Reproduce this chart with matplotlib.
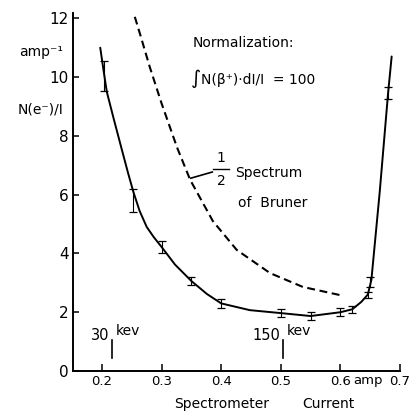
import matplotlib
matplotlib.use("Agg")
import matplotlib.pyplot as plt

# ---- data ----
pt_x = [0.2035, 0.2515, 0.30, 0.35, 0.40, 0.50, 0.55, 0.60, 0.62, 0.646, 0.65, 0.68]
pt_y = [10.03, 5.80, 4.22, 3.06, 2.30, 1.97, 1.87, 2.00, 2.08, 2.60, 3.03, 9.45]
pt_err = [0.51, 0.39, 0.20, 0.14, 0.15, 0.13, 0.13, 0.13, 0.12, 0.10, 0.17, 0.20]

curve_x = [0.197, 0.2035, 0.208, 0.22, 0.233, 0.2435, 0.2525, 0.263, 0.275, 0.287,
           0.30, 0.3225, 0.35, 0.376, 0.40, 0.448, 0.50, 0.55, 0.60, 0.62,
           0.635, 0.646, 0.652, 0.666, 0.68, 0.686]
curve_y = [11.0, 10.1, 9.5, 8.55, 7.55, 6.75, 6.1, 5.45, 4.9, 4.55,
           4.22, 3.62, 3.06, 2.62, 2.30, 2.07, 1.97, 1.87, 2.00, 2.10,
           2.35, 2.60, 3.10, 6.10, 9.45, 10.70]

bruner_x = [0.255, 0.264, 0.28, 0.30, 0.326, 0.348, 0.386, 0.426, 0.482, 0.537, 0.60]
bruner_y = [12.05, 11.45, 10.35, 9.1, 7.6, 6.5, 5.1, 4.12, 3.33, 2.86, 2.58]

x_ticks = [0.2, 0.3, 0.4, 0.5, 0.6, 0.7]
x_tick_labels = ["0.2", "0.3", "0.4", "0.5", "0.6", "0.7"]
y_ticks = [0, 2, 4, 6, 8, 10, 12]
y_tick_labels = ["0", "2", "4", "6", "8", "10", "12"]

energy_marks_x = [0.217, 0.5037]
energy_marks_lab = ["30", "150"]

plt.rcParams['font.family'] = ['DejaVu Sans']

fig = plt.figure(figsize=(4.14, 4.18), dpi=100)
ax = fig.add_axes([73/414, 1-371/418, (400-73)/414, (371-13)/418])
ax.set_xlim(0.1513, 0.7)
ax.set_ylim(0, 12.18)

for s in ['top', 'right']:
    ax.spines[s].set_visible(False)
for s in ['left', 'bottom']:
    ax.spines[s].set_linewidth(1.4)

ax.set_xticks(x_ticks)
ax.set_xticklabels(x_tick_labels)
ax.set_yticks(y_ticks)
ax.set_yticklabels(y_tick_labels)
ax.tick_params(axis='x', direction='in', length=5, width=1.1, labelsize=9.5, pad=3)
ax.tick_params(axis='y', direction='in', length=4.5, width=1.1, labelsize=11, pad=3)

# solid curve
ax.plot(curve_x, curve_y, color='black', lw=1.4, solid_capstyle='round',
        solid_joinstyle='round')
# error bars
ax.errorbar(pt_x, pt_y, yerr=pt_err, fmt='none', ecolor='black',
            elinewidth=0.8, capsize=3, capthick=0.9)
# Bruner dashed curve
ax.plot(bruner_x, bruner_y, color='black', lw=1.5, dashes=(3.8, 2.2))

# energy markers
for xm, lab in zip(energy_marks_x, energy_marks_lab):
    ax.plot([xm, xm], [0.44, 1.05], color='black', lw=1.2)
    ax.text(xm - 0.005, 1.20, lab, ha='right', va='center', fontsize=10.5)
    ax.text(xm + 0.006, 1.36, "kev", ha='left', va='center', fontsize=10)

# y-axis label text
ax.text(0.1346, 10.85, "amp⁻¹", ha='right', va='center', fontsize=10, clip_on=False)
ax.text(0.1346, 8.88, "N(e⁻)/I", ha='right', va='center', fontsize=10, clip_on=False)

# normalization note
ax.text(0.3527, 11.16, "Normalization:", ha='left', va='center', fontsize=10)
ax.text(0.3655, 9.95, "∫", ha='right', va='center', fontsize=14)
ax.text(0.3665, 9.9, "N(β⁺)·dI/I  = 100", ha='left', va='center', fontsize=10)

# 1/2 Spectrum of Bruner
ax.plot([0.349, 0.385], [6.56, 6.77], color='black', lw=1.2)
ax.text(0.3997, 7.26, "1", ha='center', va='center', fontsize=10)
ax.plot([0.387, 0.413], [6.87, 6.87], color='black', lw=1.0)
ax.text(0.3997, 6.45, "2", ha='center', va='center', fontsize=10)
ax.text(0.423, 6.73, "Spectrum", ha='left', va='center', fontsize=10)
ax.text(0.428, 5.71, "of  Bruner", ha='left', va='center', fontsize=10)

# x axis label and unit
ax.text(0.621, -0.31, "amp", ha='left', va='center', fontsize=9.5, clip_on=False)
ax.text(0.4013, -1.11, "Spectrometer", ha='center', va='center', fontsize=10, clip_on=False)
ax.text(0.579, -1.11, "Current", ha='center', va='center', fontsize=10, clip_on=False)

fig.savefig("out.png", dpi=100)
